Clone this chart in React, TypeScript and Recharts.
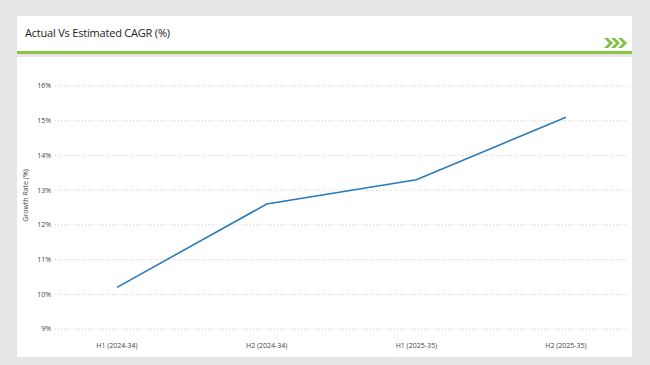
import React from "react";
import { LineChart, Line, XAxis, YAxis, CartesianGrid } from "recharts";

const categories = ["H1 (2024-34)", "H2 (2024-34)", "H1 (2025-35)", "H2 (2025-35)"];
const growthValues = [10.2, 12.6, 13.3, 15.1];
const yTicks = [9, 10, 11, 12, 13, 14, 15, 16];
const title = "Actual Vs Estimated CAGR (%)";
const yLabel = "Growth Rate (%)";

const data = categories.map((c, i) => ({ name: c, value: growthValues[i] }));
const FONT = "'Open Sans', 'Liberation Sans', Arial, sans-serif";

export default function App() {
  return (
    <div style={{ position: "absolute", left: 0, top: 0, width: 650, height: 365, background: "#e6e6e6", fontFamily: FONT, overflow: "hidden" }}>
      <div style={{ position: "absolute", left: 17, top: 16, width: 615, height: 35, background: "#fff" }}>
        <div style={{ position: "absolute", left: 8, top: 9, fontSize: 11, color: "#222", letterSpacing: -0.2 }}>{title}</div>
        <svg style={{ position: "absolute", left: 587, top: 22 }} width={24} height={10}>
          {[0, 7, 14].map((dx) => (
            <polygon key={dx} points={`${dx},0 ${dx + 4},0 ${dx + 9},5 ${dx + 4},10 ${dx},10 ${dx + 5},5`} fill="#7dc242" />
          ))}
        </svg>
      </div>
      <div style={{ position: "absolute", left: 17, top: 51, width: 615, height: 2.5, background: "#8cc63f" }} />
      <div style={{ position: "absolute", left: 17, top: 57, width: 615, height: 300, background: "#fff" }}>
        <LineChart width={615} height={300} data={data} margin={{ top: 29, right: 4, left: 0, bottom: 0 }}>
          <CartesianGrid vertical={false} stroke="#cfcfcf" strokeDasharray="1 2" />
          <XAxis
            dataKey="name"
            axisLine={false}
            tickLine={false}
            tickSize={0}
            tickMargin={14}
            height={28}
            padding={{ left: 62, right: 62 }}
            interval={0}
            tick={{ fontSize: 7, fill: "#444", fontFamily: FONT }}
          />
          <YAxis
            domain={[9, 16]}
            ticks={yTicks}
            axisLine={false}
            tickLine={false}
            tickSize={0}
            tickMargin={4}
            width={38}
            tickFormatter={(v: number) => `${v}%`}
            tick={{ fontSize: 7, fill: "#444", fontFamily: FONT }}
            label={{ value: yLabel, angle: -90, position: "insideLeft", offset: 9, dy: -12, style: { fontSize: 7, fill: "#444", fontFamily: FONT, textAnchor: "middle" } }}
          />
          <Line type="linear" dataKey="value" stroke="#2b7bba" strokeWidth={1.6} dot={false} isAnimationActive={false} />
        </LineChart>
      </div>
    </div>
  );
}
